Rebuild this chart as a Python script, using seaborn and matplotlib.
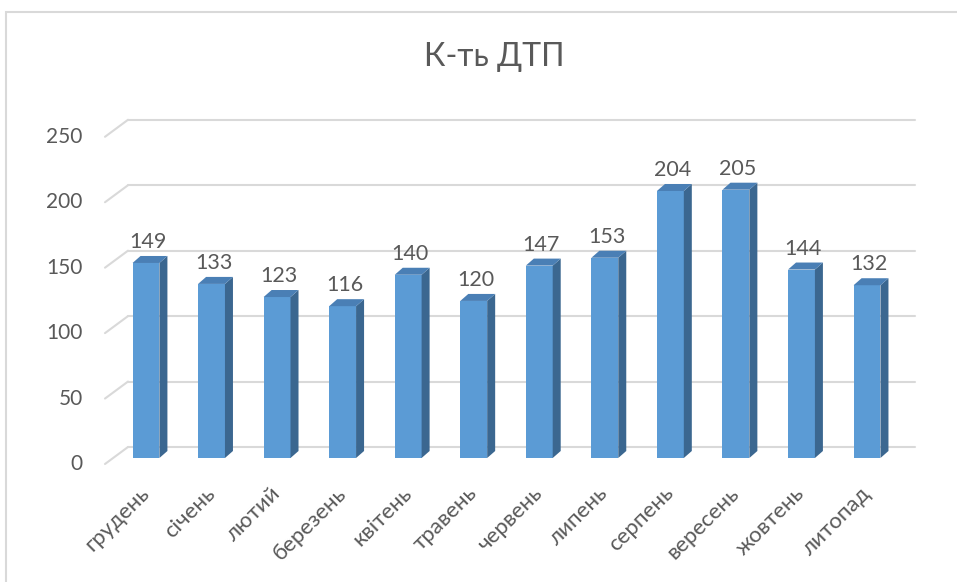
import matplotlib
matplotlib.use("Agg")
import matplotlib.pyplot as plt
import matplotlib.transforms as mtransforms
from matplotlib.patches import Polygon, Rectangle
from matplotlib.lines import Line2D
import pandas as pd
import seaborn as sns

# Monthly road-accident counts
months = ["грудень", "січень", "лютий", "березень", "квітень", "травень",
          "червень", "липень", "серпень", "вересень", "жовтень", "листопад"]
# Tick labels as shown on the axis (last one is printed as "литопад")
month_labels = ["грудень", "січень", "лютий", "березень", "квітень", "травень",
                "червень", "липень", "серпень", "вересень", "жовтень", "литопад"]
counts = [149, 133, 123, 116, 140, 120, 147, 153, 204, 205, 144, 132]
y_ticks = [0, 50, 100, 150, 200, 250]
title = "К-ть ДТП"

FRONT = "#5B9BD5"
SIDE = "#3B6790"
TOP = "#4A7FB5"
GRID = "#D9D9D9"
TEXT = "#595959"

sns.set_theme(style="white")
plt.rcParams["font.family"] = ["Lato", "DejaVu Sans"]

W, H, DPI = 957, 582, 100
fig = plt.figure(figsize=(W / DPI, H / DPI), dpi=DPI)
fig.patch.set_facecolor("white")

# Axes placed so the bars' front plane occupies the plot area
left_px, right_px = 113.2, 899.8
bottom_px, top_px = 458.0, 117.7  # measured from the top edge
ax = fig.add_axes([left_px / W, (H - bottom_px) / H,
                   (right_px - left_px) / W, (bottom_px - top_px) / H])
ax.set_facecolor("none")

df = pd.DataFrame({"month": months, "count": counts})
sns.barplot(data=df, x="month", y="count", ax=ax, color=FRONT,
            saturation=1, width=0.41, linewidth=0, zorder=3)
ax.set_xlim(-0.5, 11.5)
ax.set_ylim(0, 260)
for s in ax.spines.values():
    s.set_visible(False)
ax.set_xlabel("")
ax.set_ylabel("")

fig.canvas.draw()
ident = mtransforms.IdentityTransform()


def to_px(x, y):
    return ax.transData.transform((x, y))


# Depth geometry in pixels
bar_dx, bar_dy = 8, 7        # side/top face offset of each column
wall_dx, wall_dy = 23, 17    # depth of the floor/side wall
wall_shift = 11              # back wall sits this many px above the front plane
wall_left, wall_right = 128, 915

# Back-wall gridlines with their side-wall diagonals (behind the columns)
for v in y_ticks:
    _, fy = to_px(0, v)
    by = fy + wall_shift
    ax.add_artist(Line2D([wall_left, wall_right], [by, by], transform=ident,
                         color=GRID, lw=1.5, zorder=1, clip_on=False))
    ax.add_artist(Line2D([wall_left - wall_dx, wall_left], [by - wall_dy, by],
                         transform=ident, color=GRID, lw=1.5, zorder=1,
                         clip_on=False))

# Side and top faces of each column, plus value labels
w = 0.41
for i, v in enumerate(counts):
    x0, y0 = to_px(i - w / 2, 0)
    x1, y1 = to_px(i + w / 2, v)
    side = [(x1, y0), (x1 + bar_dx, y0 + bar_dy), (x1 + bar_dx, y1 + bar_dy), (x1, y1)]
    top = [(x0, y1), (x1, y1), (x1 + bar_dx, y1 + bar_dy), (x0 + bar_dx, y1 + bar_dy)]
    ax.add_artist(Polygon(side, closed=True, transform=ident, facecolor=SIDE,
                          edgecolor="none", zorder=4, clip_on=False))
    ax.add_artist(Polygon(top, closed=True, transform=ident, facecolor=TOP,
                          edgecolor="none", zorder=4, clip_on=False))
    cx = (x0 + x1) / 2 + 2
    fig.text(cx / W, (y1 + 21) / H, f"{v}", ha="center", va="center",
             fontsize=15.5, color=TEXT)

# Y tick labels aligned with the front edge of the side wall
ax.set_yticks(y_ticks)
ax.set_yticklabels([str(t) for t in y_ticks])
ax.tick_params(axis="y", length=0, pad=22, labelsize=15, labelcolor=TEXT)
for lab in ax.get_yticklabels():
    lab.set_transform(lab.get_transform() +
                      mtransforms.ScaledTranslation(0, -4 / DPI, fig.dpi_scale_trans))

# Rotated month labels
ax.set_xticks(range(len(months)))
ax.set_xticklabels(month_labels, rotation=45, ha="right", rotation_mode="anchor")
ax.tick_params(axis="x", length=0, pad=18, labelsize=16, labelcolor=TEXT)
for lab in ax.get_xticklabels():
    lab.set_transform(lab.get_transform() +
                      mtransforms.ScaledTranslation(-7 / DPI, 0, fig.dpi_scale_trans))

fig.text(494 / W, 1 - 57 / H, title, ha="center", va="center",
         fontsize=23, color=TEXT)

# Chart frame
fig.add_artist(Rectangle((6, -20), W + 20, H - 12 + 20, transform=ident,
                         fill=False, edgecolor=GRID, lw=1.5))

fig.savefig("out.png", dpi=DPI, facecolor="white")
